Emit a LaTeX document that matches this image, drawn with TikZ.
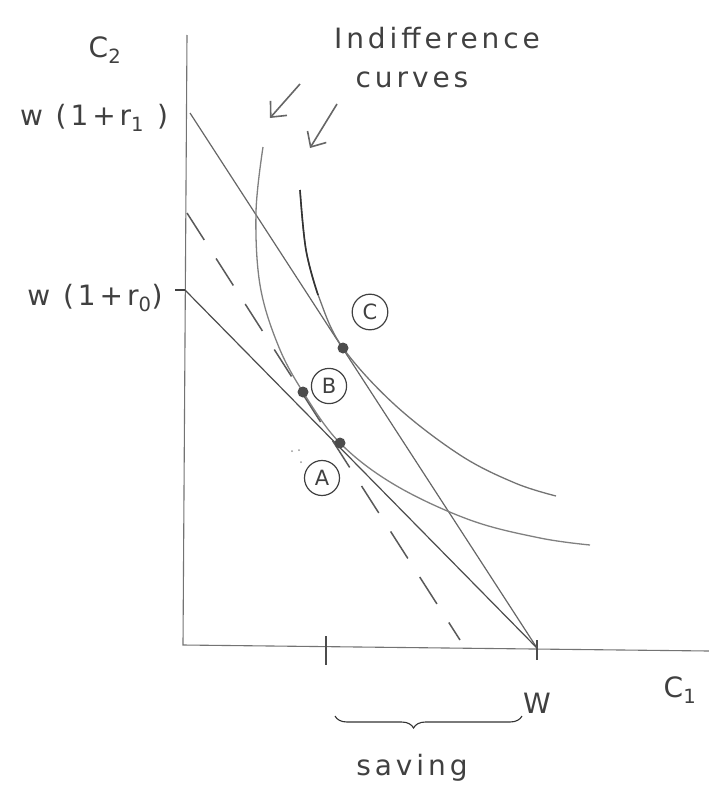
\documentclass[tikz,border=0pt]{standalone}
\usepackage{fontspec}
\setmainfont{DejaVu Sans}[LetterSpace=14]
\usetikzlibrary{decorations.pathreplacing,arrows.meta}
\begin{document}
\begin{tikzpicture}[x=1pt,y=-1pt,
  axisline/.style={draw=black!55, line width=1.1pt},
  budget/.style={draw=black!60, line width=1.2pt},
  icurve/.style={draw=black!50, line width=1.3pt},
  lbl/.style={font=\fontsize{28}{32}\selectfont, text=black!75},
  circ/.style={draw=black!75, circle, line width=1.2pt, inner sep=5pt, font=\fontsize{21}{22}\selectfont, text=black!75},
  pt/.style={circle, fill=black!70, inner sep=0pt, minimum size=11pt},
  arr/.style={draw=black!60, line width=1.6pt, -{Straight Barb[length=12pt, width=22pt]}}]
\useasboundingbox (0,0) rectangle (709,795);
% axes
\coordinate (ytop) at (187,35);
\coordinate (orig) at (183,645);
\coordinate (xend) at (709,651);
\draw[axisline] (ytop) -- (orig) -- (xend);
% ticks
\coordinate (t1a) at (326,636); \coordinate (t1b) at (326,665);
\draw[draw=black!70, line width=1.6pt] (t1a) -- (t1b);
\coordinate (Wa) at (537,640); \coordinate (Wb) at (537,660);
\draw[draw=black!70, line width=1.6pt] (Wa) -- (Wb);
\coordinate (W) at (537,648);
\coordinate (r1) at (190,113);
\coordinate (r0) at (185,290);
\coordinate (r0t) at (175,290);
\coordinate (dtop) at (187,213);
\coordinate (dend) at (460,640);
\draw[draw=black!75, line width=1.6pt] (r0t) -- (r0);
% budget lines
\draw[budget] (r1) -- (W);
\draw[budget, draw=black!70] (r0) -- (W);
\draw[budget, draw=black!65, line width=1.5pt, dash pattern=on 32pt off 22pt] (dtop) -- (dend);
% indifference curves
\draw[icurve] plot[smooth, tension=0.6] coordinates {(263,147) (256,212) (260,285) (278,345) (303,392) (340,443) (395,485) (470,520) (540,538) (590,545)};
\draw[icurve, draw=black!55] plot[smooth, tension=0.6] coordinates {(300,190) (306,250) (320,300) (343,348) (395,405) (460,455) (515,483) (556,496)};
\draw[draw=black!80, line width=1.6pt] plot[smooth, tension=0.6] coordinates {(300,190) (306,250) (318,295)};
% points
\node[pt] (C) at (343,348) {};
\node[pt] (B) at (303,392) {};
\node[pt] (A) at (340,443) {};
\node[circ] (Cl) at (370,312) {C};
\node[circ] (Bl) at (329,386) {B};
\node[circ] (Al) at (322,478) {A};
\node[circle, fill=black!40, inner sep=0pt, minimum size=2pt] (d1) at (292,451) {};
\node[circle, fill=black!40, inner sep=0pt, minimum size=2pt] (d2) at (299,450) {};
\node[circle, fill=black!40, inner sep=0pt, minimum size=2pt] (d3) at (301,462) {};
% labels
\node[lbl] (c2) at (105,50) {C\textsubscript{2}};
\node[lbl] (lr1) at (94,118) {w (1+r\textsubscript{1} )};
\node[lbl] (lr0) at (95,298) {w (1+r\textsubscript{0})};
\node[lbl] (ind) at (437,38) {Indifference};
\node[lbl] (cur) at (412,80) {curves};
\node[lbl] (lW) at (537,703) {W};
\node[lbl] (c1) at (680,690) {C\textsubscript{1}};
\node[lbl] (sav) at (412,768) {saving};
% arrows
\coordinate (a1s) at (300,84); \coordinate (a1e) at (270,118);
\coordinate (a2s) at (337,104); \coordinate (a2e) at (310,148);
\draw[arr] (a1s) -- (a1e);
\draw[arr] (a2s) -- (a2e);
% brace
\coordinate (bra) at (335,716); \coordinate (brb) at (522,716);
\draw[draw=black!80, line width=1.1pt, decorate, decoration={brace, mirror, amplitude=12pt, aspect=0.42}] (bra) -- (brb);
\end{tikzpicture}
\end{document}
